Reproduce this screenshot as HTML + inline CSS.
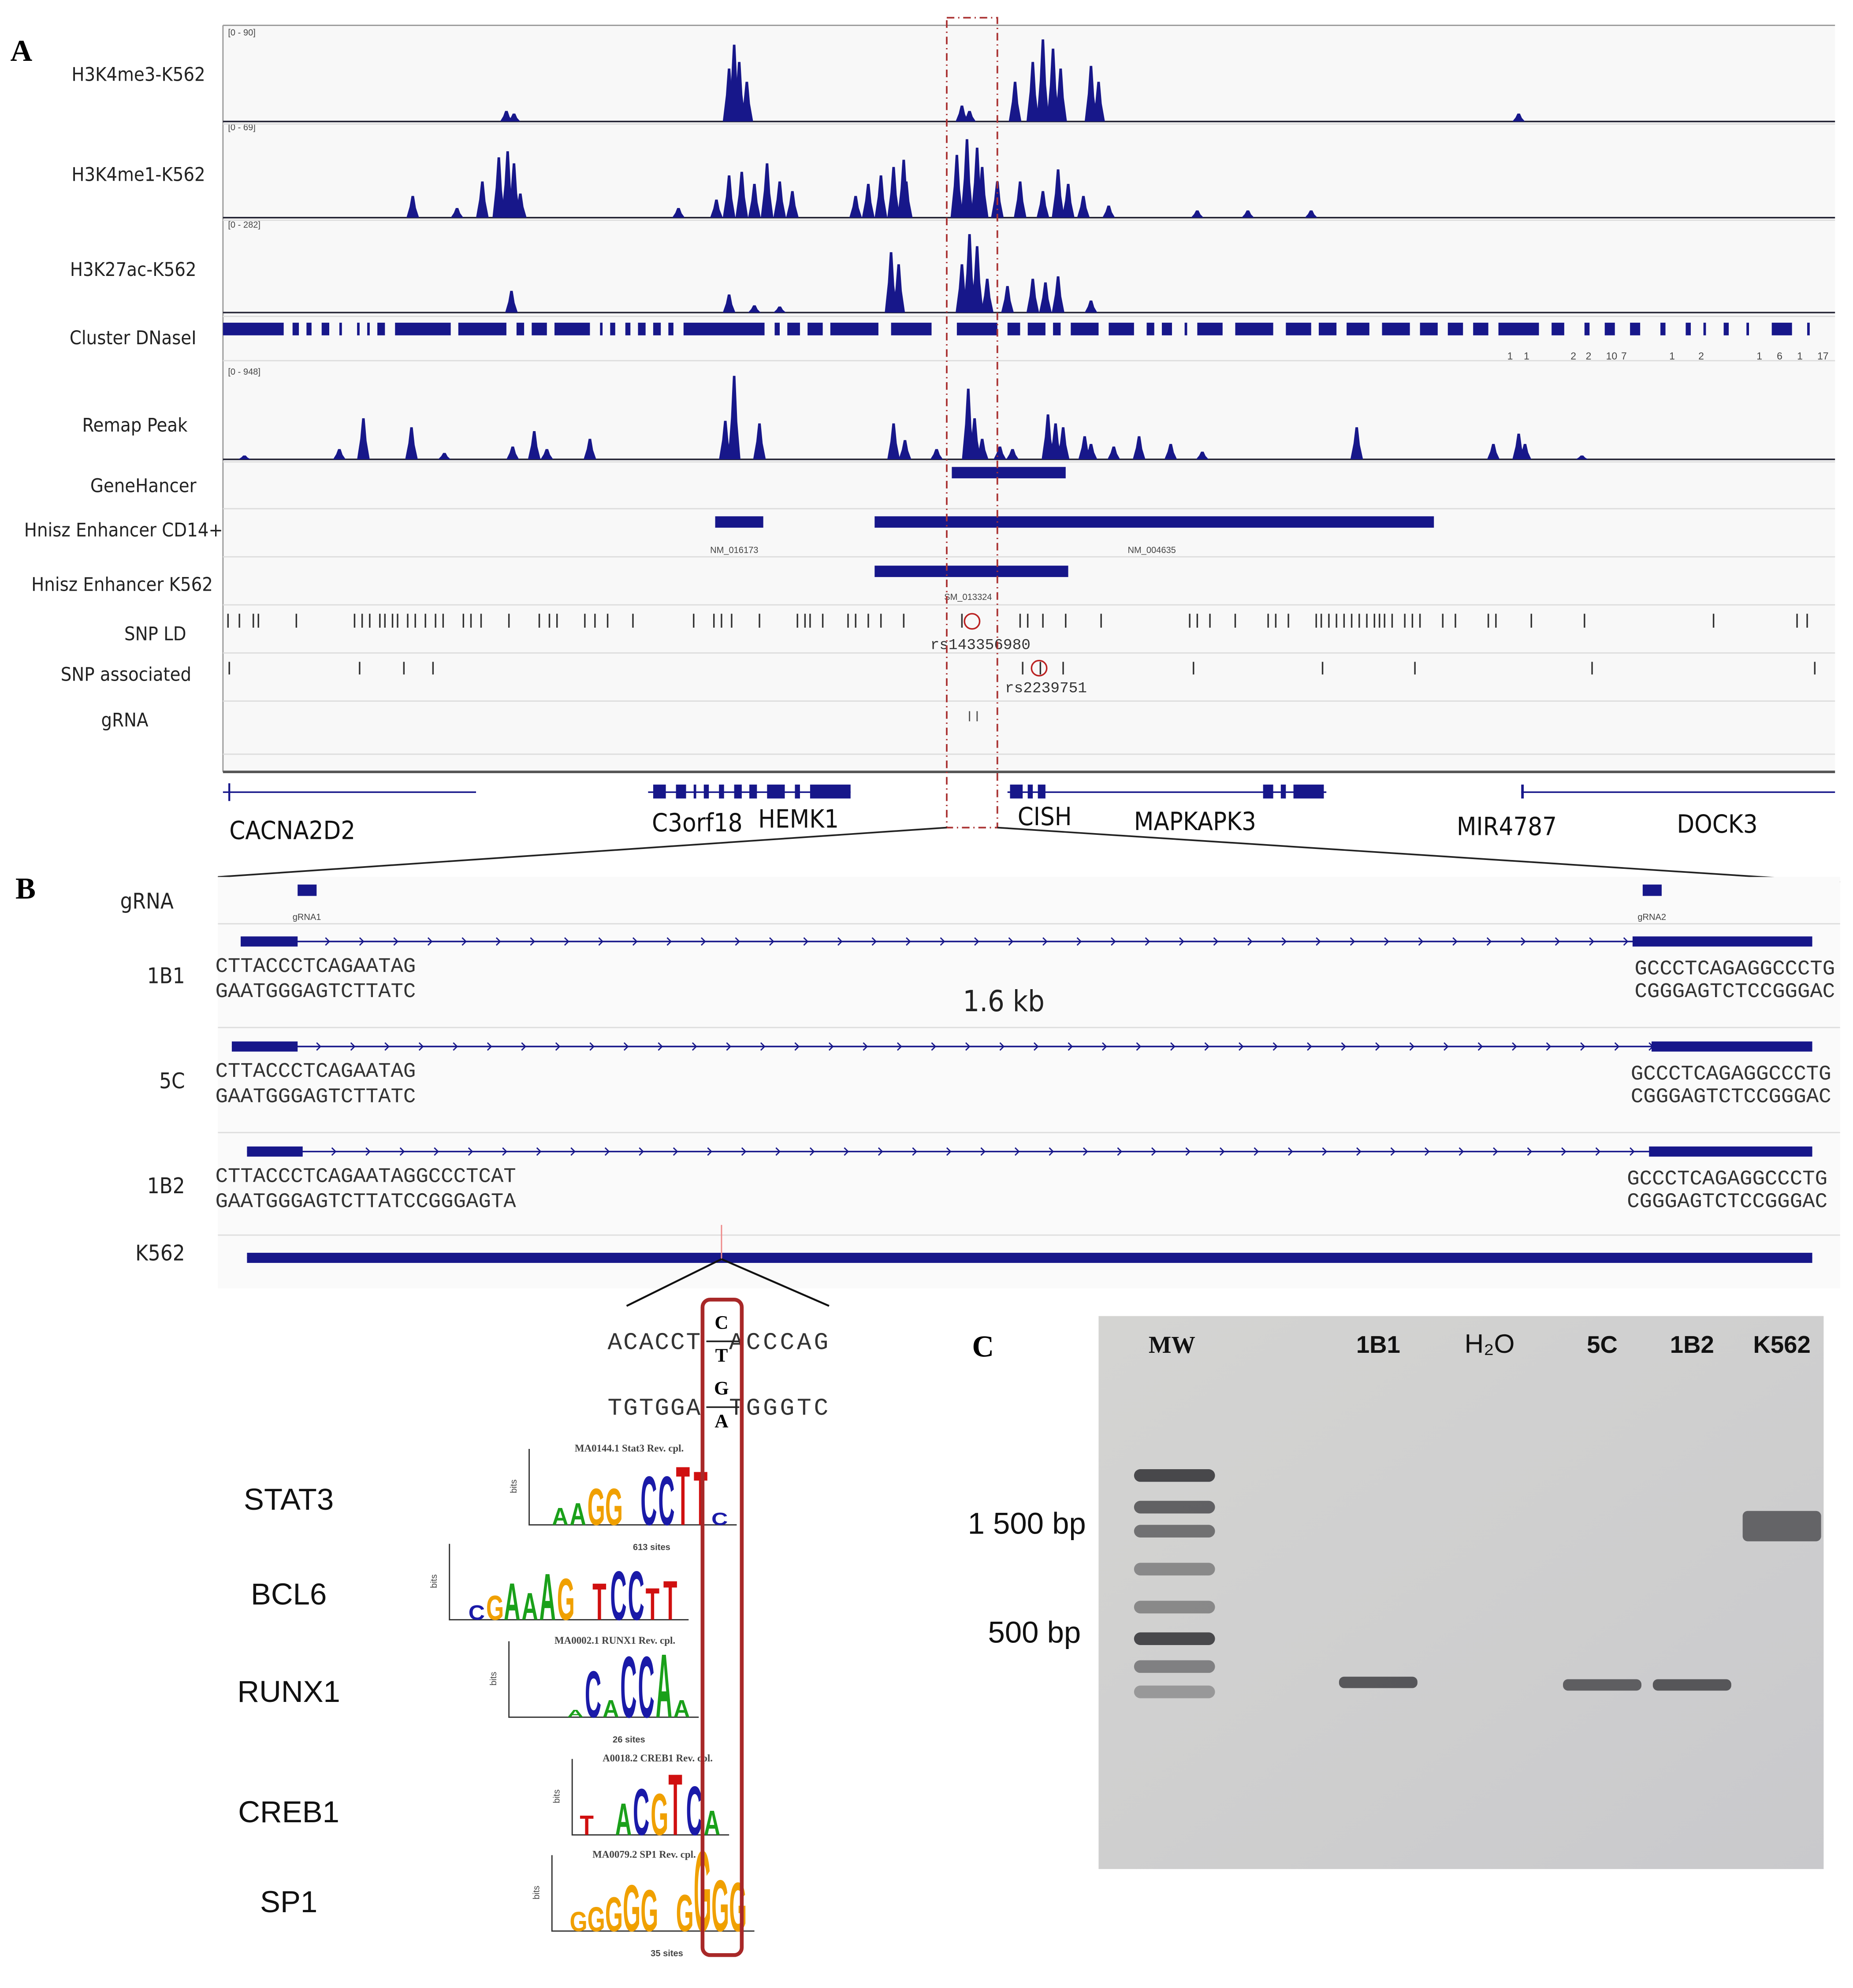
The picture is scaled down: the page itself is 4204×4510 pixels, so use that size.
<!DOCTYPE html>
<html><head><meta charset="utf-8"><style>
html,body{margin:0;padding:0;background:#fff}
svg{display:block}
.lab{font-family:"DejaVu Sans Condensed","Liberation Sans Narrow","Liberation Sans",sans-serif;font-size:15px;fill:#222}
.gene{font-family:"DejaVu Sans Condensed","Liberation Sans",sans-serif;font-size:20px;fill:#111}
.seq{font-family:"Liberation Mono",monospace;font-size:15px;fill:#333}
.big{font-family:"Liberation Serif",serif;font-weight:bold;font-size:24px;fill:#000}
.tf{font-family:"Liberation Sans",sans-serif;font-size:24px;fill:#111}
.tiny{font-family:"Liberation Sans",sans-serif;font-size:7px;fill:#444}
.gl{font-family:"Liberation Sans",sans-serif;font-weight:bold;font-size:19px;fill:#111}
</style></head><body>
<svg id="fig" width="4204" height="4510" viewBox="0 0 1464 1571" xmlns="http://www.w3.org/2000/svg">
<defs>
<linearGradient id="gelg" x1="0" y1="0" x2="1" y2="1">
<stop offset="0" stop-color="#d4d4d2"/><stop offset="0.5" stop-color="#cfcfcf"/><stop offset="1" stop-color="#c9c9cc"/>
</linearGradient>
</defs>
<text class="big" x="8" y="48">A</text>
<g id="tracks">
<rect x="176" y="20" width="1274" height="590" fill="#f8f8f8"/>
<line x1="176" y1="20" x2="176" y2="610" stroke="#999"/>
<line x1="176" y1="20" x2="1450" y2="20" stroke="#999"/>
</g>
<g id="labels">
<text class="lab" x="162" y="64" text-anchor="end">H3K4me3-K562</text>
<text class="lab" x="162" y="143" text-anchor="end">H3K4me1-K562</text>
<text class="lab" x="155" y="218" text-anchor="end">H3K27ac-K562</text>
<text class="lab" x="155" y="272" text-anchor="end">Cluster DNaseI</text>
<text class="lab" x="148" y="341" text-anchor="end">Remap Peak</text>
<text class="lab" x="155" y="389" text-anchor="end">GeneHancer</text>
<text class="lab" x="176" y="424" text-anchor="end">Hnisz Enhancer CD14+</text>
<text class="lab" x="168" y="467" text-anchor="end">Hnisz Enhancer K562</text>
<text class="lab" x="147" y="506" text-anchor="end">SNP LD</text>
<text class="lab" x="151" y="538" text-anchor="end">SNP associated</text>
<text class="lab" x="117" y="574" text-anchor="end">gRNA</text>
</g>
<g id="marks"></g>
<text class="big" x="12" y="710">B</text>
<g id="panelB"></g>
<text class="big" x="768" y="1072">C</text>
<g id="gel"></g>
<g id="logos"></g>
</svg>
<script>
// ---- data (positions in kb from left edge of window 0..1274) ----
const h3k4me3Pos=[224,230,400,404,408,414,584,590,626,640,648,656,662,686,692,1024];
const h3k4me3Val=[8,6,40,58,45,30,12,8,30,45,62,55,40,42,30,6];
const h3k4me1Pos=[150,185,205,218,225,230,235,360,390,400,410,420,430,440,450,500,510,520,530,538,540,580,588,596,600,612,630,648,660,668,680,700,770,810,860];
const h3k4me1Val=[18,8,30,50,55,45,20,8,15,35,38,28,45,30,22,18,28,35,42,48,30,52,65,58,42,30,30,22,40,28,18,10,6,6,6];
const h3k27acPos=[228,400,420,440,528,534,584,590,596,604,620,640,650,660,686];
const h3k27acVal=[18,15,6,5,50,40,40,65,55,28,22,28,25,30,10];
const remapPos=[17,92,111,149,175,229,246,256,290,397,404,424,530,539,564,589,594,600,614,624,652,658,664,681,686,704,724,749,774,896,1004,1024,1029,1074];
const remapVal=[3,8,32,25,5,10,22,8,16,30,65,28,28,15,8,55,32,16,10,8,35,28,25,18,12,10,18,12,6,25,12,20,12,3];
const dnaseSeg=[[0,48],[55,60],[66,70],[78,84],[92,94],[106,108],[114,116],[122,128],[136,180],[186,224],[232,238],[244,256],[262,290],[298,300],[306,310],[318,322],[328,334],[340,346],[352,356],[364,428],[436,440],[446,456],[462,474],[480,518],[528,560],[580,612],[620,630],[636,650],[656,662],[670,692],[700,720],[730,736],[742,750],[760,762],[770,790],[800,830],[840,860],[866,880],[888,906],[916,938],[946,960],[968,980],[988,1000],[1008,1040],[1050,1060],[1076,1080],[1092,1100],[1112,1120],[1136,1140],[1156,1160],[1170,1172],[1186,1190],[1204,1206],[1224,1240],[1252,1254]];
const dnaseNumPos=[1015,1028,1065,1077,1093,1105,1143,1166,1212,1228,1244,1260];
const dnaseNumTxt=["1","1","2","2","10","7","1","2","1","6","1","17"];
const geneHancer=[[576,666]];
const hniszCD14=[[389,427],[515,957]];
const hniszK562=[[515,668]];
const snpLD=[4,13,24,28,58,104,110,116,124,128,134,138,146,152,160,168,174,190,196,204,226,250,258,264,286,294,304,324,372,388,394,402,424,454,460,464,474,494,500,510,520,538,584,630,636,648,666,694,764,770,780,800,826,832,842,864,868,874,880,886,892,898,904,910,914,918,924,934,940,946,964,974,1000,1006,1034,1076,1178,1244,1252];
const snpAssoc=[5,108,143,166,632,646,664,767,869,942,1082,1258];
const gRNAPos=[590,596];
const geneExons=[[340,350],[358,366],[372,374],[380,384],[392,396],[404,410],[416,422],[430,444],[452,456],[464,496],[622,632],[636,640],[644,650],[822,830],[836,840],[846,870],[1026,1028]];
const geneNames=["CACNA2D2","C3orf18","HEMK1","CISH","MAPKAPK3","MIR4787","DOCK3"];
const geneNameX=[5,339,423,628,720,975,1149];
const geneNameY=[663,657,654,652,656,660,658];
// ---- helpers ----
const NS="http://www.w3.org/2000/svg";
const X0=176, X1=1450, DMAX=1274;
function xs(v){return X0+v*(X1-X0)/DMAX;}
function mk(tag,attrs,parent){const e=document.createElementNS(NS,tag);for(const k in attrs){
  if(k.indexOf('font')===0||k==='letter-spacing'){e.style.setProperty(k,attrs[k]);}else e.setAttribute(k,attrs[k]);}
  parent.appendChild(e);return e;}
const M=document.getElementById('marks');
const NAVY="#17178a";
function peakTrack(pos,val,base,vmax,hmax,name){
  let l=mk('line',{x1:X0,y1:base,x2:X1,y2:base,stroke:'#223',"stroke-width":1.2},M);
  
  
  for(let i=0;i<pos.length;i++){
    const cx=xs(pos[i]), h=val[i]/vmax*hmax, w=5;
    const p=mk('polygon',{points:`${cx-w},${base} ${cx-w*0.5},${base-h*0.5} ${cx-1},${base-h} ${cx+1},${base-h} ${cx+w*0.5},${base-h*0.45} ${cx+w},${base}`,fill:NAVY},M);
    
    
  }
}
peakTrack(h3k4me3Pos,h3k4me3Val,96,65,68,'h3k4me3');
peakTrack(h3k4me1Pos,h3k4me1Val,172,65,62,'h3k4me1');
peakTrack(h3k27acPos,h3k27acVal,247,65,62,'h3k27ac');
peakTrack(remapPos,remapVal,363,65,66,'remap');
[[28,'[0 - 90]'],[103,'[0 - 69]'],[180,'[0 - 282]'],[296,'[0 - 948]']].forEach(a=>{
  const t=mk('text',{x:180,y:a[0],class:'tiny'},M);t.textContent=a[1];
  
  
});
[98,174,250,285,365,402,440,478,516,554,596].forEach(y=>{
  const l=mk('line',{x1:X0,y1:y,x2:X1,y2:y,stroke:'#ddd'},M);
  
  
});
dnaseSeg.forEach(s=>{
  const r=mk('rect',{x:xs(s[0]),y:255,width:Math.max(1.2,xs(s[1])-xs(s[0])),height:10,fill:NAVY},M);
  
  
});
dnaseNumPos.forEach((p,i)=>{
  const t=mk('text',{x:xs(p),y:284,class:'tiny','font-size':'8px'},M);t.textContent=dnaseNumTxt[i];
  
  
});
function bars(arr,y,h,name){arr.forEach(s=>{
  const r=mk('rect',{x:xs(s[0]),y:y,width:xs(s[1])-xs(s[0]),height:h,fill:NAVY},M);
  
  
});}
bars(geneHancer,369,9,'genehancer-element');
bars(hniszCD14,408,9,'hnisz-cd14-enhancer');
bars(hniszK562,447,9,'hnisz-k562-enhancer');
[[xs(389)-4,437,'NM_016173'],[xs(515)+200,437,'NM_004635'],[746,474,'SM_013324']].forEach(a=>{
  const t=mk('text',{x:a[0],y:a[1],class:'tiny'},M);t.textContent=a[2];
  
  
});
snpLD.forEach(p=>{const l=mk('line',{x1:xs(p),y1:485,x2:xs(p),y2:496,stroke:'#333','stroke-width':1.2},M);
  
  });
snpAssoc.forEach(p=>{const l=mk('line',{x1:xs(p),y1:523,x2:xs(p),y2:533,stroke:'#333','stroke-width':1.2},M);
  
  });
gRNAPos.forEach(p=>{const l=mk('line',{x1:xs(p),y1:562,x2:xs(p),y2:570,stroke:'#555'},M);
  
  });
let c1=mk('circle',{cx:768,cy:491,r:6,fill:'none',stroke:'#b22','stroke-width':1.2},M);

let c2=mk('circle',{cx:821,cy:528,r:6,fill:'none',stroke:'#b22','stroke-width':1.2},M);

let t1=mk('text',{x:735,y:513,class:'seq','font-size':'12px'},M);t1.textContent='rs143356980';

let t2=mk('text',{x:794,y:547,class:'seq','font-size':'12px'},M);t2.textContent='rs2239751';

let ax=mk('line',{x1:X0,y1:610,x2:X1,y2:610,stroke:'#555','stroke-width':2},M);

[[0,200],[336,496],[620,872],[1026,1274]].forEach(s=>{
  const l=mk('line',{x1:xs(s[0]),y1:626,x2:xs(s[1]),y2:626,stroke:NAVY,'stroke-width':1.2},M);
  
});
let l0=mk('line',{x1:xs(5),y1:619,x2:xs(5),y2:633,stroke:NAVY,'stroke-width':1.5},M);

geneExons.forEach(s=>{
  const r=mk('rect',{x:xs(s[0]),y:620,width:Math.max(2,xs(s[1])-xs(s[0])),height:11,fill:NAVY},M);
  
});
geneNames.forEach((n,i)=>{
  const t=mk('text',{x:xs(geneNameX[i]),y:geneNameY[i],class:'gene'},M);t.textContent=n;
  
});
let rb=mk('rect',{x:748,y:14,width:40,height:640,fill:'none',stroke:'#a33','stroke-width':1.3,'stroke-dasharray':'6 3 1 3'},M);

let z1=mk('line',{x1:748,y1:654,x2:172,y2:693,stroke:'#222','stroke-width':1.3},M);

let z2=mk('line',{x1:788,y1:654,x2:1454,y2:697,stroke:'#222','stroke-width':1.3},M);


// ---- panel B ----
const B=document.getElementById('panelB');
const cloneNames=["1B1","5C","1B2"];
const cloneY=[744,827,910];
const cloneLeftEnd=[235,235,239];
const cloneLeftStart=[190,183,195];
const cloneRightStart=[1290,1305,1303];
const seqTop=[["CTTACCCTCAGAATAG","GAATGGGAGTCTTATC"],["CTTACCCTCAGAATAG","GAATGGGAGTCTTATC"],["CTTACCCTCAGAATAGGCCCTCAT","GAATGGGAGTCTTATCCGGGAGTA"]];
const seqRight=[["GCCCTCAGAGGCCCTG","CGGGAGTCTCCGGGAC"],["GCCCTCAGAGGCCCTG","CGGGAGTCTCCGGGAC"],["GCCCTCAGAGGCCCTG","CGGGAGTCTCCGGGAC"]];
let bb=mk('rect',{x:172,y:693,width:1282,height:325,fill:'#fafafa'},B);

[730,812,895,976].forEach(y=>{const l=mk('line',{x1:172,y1:y,x2:1454,y2:y,stroke:'#ddd'},B);
  });
let gl=mk('text',{x:137,y:718,class:'lab','font-size':'17px',"text-anchor":"end"},B);gl.textContent='gRNA';

[[235,'gRNA1',231],[1298,'gRNA2',1294]].forEach(a=>{
  const r=mk('rect',{x:a[0],y:699,width:15,height:9,fill:NAVY},B);
  
  const t=mk('text',{x:a[2],y:727,class:'tiny'},B);t.textContent=a[1];
  
});
function arrowLine(x1,x2,y){
  const l=mk('line',{x1:x1,y1:y,x2:x2,y2:y,stroke:NAVY,'stroke-width':1.2},B);
  
  let d='';for(let x=x1+15;x<x2;x+=27){d+=`M${x-2},${y-3}L${x+1},${y}L${x-2},${y+3}`;}
  const p=mk('path',{d:d,stroke:NAVY,fill:'none','stroke-width':1},B);
  
}
cloneNames.forEach((n,i)=>{
  const y=cloneY[i];
  arrowLine(cloneLeftStart[i],1432,y);
  const r1=mk('rect',{x:cloneLeftStart[i],y:y-4,width:cloneLeftEnd[i]-cloneLeftStart[i],height:8,fill:NAVY},B);
  
  const r2=mk('rect',{x:cloneRightStart[i],y:y-4,width:1432-cloneRightStart[i],height:8,fill:NAVY},B);
  
  const t=mk('text',{x:146,y:y+33,class:'lab','font-size':'17px',"text-anchor":"end"},B);t.textContent=n;
  
  seqTop[i].forEach((s,k)=>{
    const q=mk('text',{x:170,y:y+24+k*20,class:'seq','font-size':'16.5px',fill:'#444'},B);q.textContent=s;
    
  });
  seqRight[i].forEach((s,k)=>{
    const q=mk('text',{x:1450-i*3,y:y+26+k*18,class:'seq','font-size':'16.5px','text-anchor':'end',fill:'#444'},B);q.textContent=s;
    
  });
});
let kb=mk('text',{x:793,y:799,class:'lab','font-size':'23px','text-anchor':'middle'},B);kb.textContent='1.6 kb';

arrowLine(195,1432,994);
let kr=mk('rect',{x:195,y:990,width:1237,height:8,fill:NAVY},B);

let kl=mk('text',{x:146,y:996,class:'lab','font-size':'17px','text-anchor':'end'},B);kl.textContent='K562';

let km=mk('line',{x1:570,y1:968,x2:570,y2:996,stroke:'#e88'},B);

let zp=mk('path',{d:'M570,995 L495,1032 M570,995 L655,1032',stroke:'#111','stroke-width':1.5,fill:'none'},B);


// ---- sequences & logos ----
const L=document.getElementById('logos');
function tx(x,y,s,cls,extra,name){const t=mk('text',Object.assign({x:x,y:y,class:cls},extra||{}),L);t.textContent=s;
  return t;}
tx(480,1066,'ACACCT','seq',{'font-size':'19px','letter-spacing':'1px'},'ref-seq-top-left');
tx(576,1066,'ACCCAG','seq',{'font-size':'19px','letter-spacing':'2px'},'ref-seq-top-right');
tx(480,1118,'TGTGGA','seq',{'font-size':'19px','letter-spacing':'1px'},'ref-seq-bottom-left');
tx(576,1118,'TGGGTC','seq',{'font-size':'19px','letter-spacing':'2px'},'ref-seq-bottom-right');
let dsh=mk('path',{d:'M558,1060 L584,1060 M558,1112 L584,1112',stroke:'#222','stroke-width':1.3},L);

['C','T','G','A'].forEach((c,i)=>tx(570,1050+i*26,c,'big',{'font-size':'15px','text-anchor':'middle'},'snp-allele-'+c));
const tfNames=["STAT3","BCL6","RUNX1","CREB1","SP1"];
const tfY=[1193,1268,1345,1440,1511];
tfNames.forEach((n,i)=>tx(228,tfY[i],n,'tf',{'text-anchor':'middle'},'tf-label-'+n.toLowerCase()));
const COL={A:'#1aa01a',C:'#1a1aa8',G:'#f0a000',T:'#d01010'};
const logoDefs=[
 {x:436,y:1205,ax:418,title:'MA0144.1 Stat3  Rev. cpl.',letters:'AAGG.CCTTC',h:[14,18,30,30,4,40,40,48,44,10],sites:'613 sites'},
 {x:370,y:1280,ax:355,title:'',letters:'CGAAAG.TCCTT',h:[12,20,30,22,38,34,6,30,40,40,26,32],sites:''},
 {x:420,y:1357,ax:402,title:'MA0002.1 RUNX1  Rev. cpl.',letters:'..ACACCAA',h:[4,4,6,38,14,50,50,52,14],sites:'26 sites'},
 {x:458,y:1450,ax:452,title:'A0018.2 CREB1  Rev. cpl.',letters:'T.ACGTCA',h:[16,4,26,38,34,50,40,20],sites:''},
 {x:450,y:1526,ax:436,title:'MA0079.2 SP1  Rev. cpl.',letters:'GGGGG.GGGG',h:[16,20,28,38,34,4,30,66,42,40],sites:'35 sites'}
];
logoDefs.forEach((d,k)=>{
  const ax=mk('path',{d:`M${d.ax},${d.y-60} L${d.ax},${d.y} L${d.x+d.letters.length*14+6},${d.y}`,stroke:'#333',fill:'none','stroke-width':1},L);
  
  tx(d.ax-10,d.y-25,'bits','tiny',{transform:`rotate(-90 ${d.ax-10} ${d.y-25})`},'logo-y-label');
  if(d.title)tx(d.x+18,d.y-58,d.title,'tiny',{'font-family':'Liberation Serif','font-weight':'bold','font-size':'8px'},'logo-title');
  if(d.sites)tx(d.x+64,d.y+20,d.sites,'tiny',{'font-weight':'bold'},'logo-sites');
  for(let i=0;i<d.letters.length;i++){
    const c=d.letters[i]; if(c==='.')continue;
    const h=d.h[i], lx=d.x+i*14;
    const t=mk('text',{x:0,y:0,'font-family':'Liberation Sans','font-weight':'bold','font-size':'20px',fill:COL[c],
      transform:`translate(${lx},${d.y}) scale(0.9,${h/14.5})`},L);
    t.textContent=c;
    
    
  }
});
let redbox=mk('rect',{x:555,y:1027,width:31,height:518,rx:6,fill:'none',stroke:'#a82828','stroke-width':3},L);


// ---- gel ----
const G=document.getElementById('gel');
const laneNames=["MW","1B1","H₂O","5C","1B2","K562"];
const laneX=[926,1089,1177,1266,1337,1408];
const ladderY=[1166,1191,1210,1240,1270,1295,1317,1337];
const ladderI=[0.85,0.7,0.6,0.45,0.45,0.85,0.5,0.35];
const sampleBandLane=[1,3,4,5];
const sampleBandY=[1329,1331,1331,1206];
const sampleBandI=[0.8,0.75,0.8,0.7];
let gr=mk('rect',{x:868,y:1040,width:573,height:437,fill:'url(#gelg)'},G);

laneNames.forEach((n,i)=>{
  const ex={x:laneX[i],y:1069,class:'gl','text-anchor':'middle'};
  if(n==='MW'){ex['font-family']='Liberation Serif, serif';}
  if(n==='H₂O'){ex['font-weight']='normal';ex['font-size']='21px';}
  const t=mk('text',ex,G);
  t.textContent=n;
  
  
});
ladderY.forEach((y,i)=>{
  const r=mk('rect',{x:896,y:y-5,width:64,height:10,rx:5,fill:'#303034','fill-opacity':ladderI[i]},G);
  
});
sampleBandLane.forEach((l,i)=>{
  const w=62;
  const r=mk('rect',{x:laneX[l]-w/2,y:sampleBandY[i]-(l===5?12:4),width:w,height:l===5?24:9,rx:4,fill:'#38383c','fill-opacity':sampleBandI[i]},G);
  
});
let s1=mk('text',{x:858,y:1212,class:'tf','text-anchor':'end'},G);s1.textContent='1 500 bp';

let s2=mk('text',{x:854,y:1298,class:'tf','text-anchor':'end'},G);s2.textContent='500 bp';

</script>
</body></html>
